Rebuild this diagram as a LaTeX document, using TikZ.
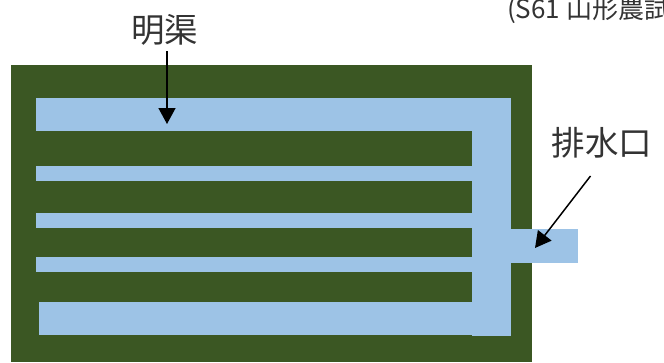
\documentclass[tikz,border=0pt]{standalone}
\usepackage{fontspec}
\setmainfont{Noto Sans CJK JP}
\usetikzlibrary{arrows.meta}
\definecolor{fieldgreen}{HTML}{3B5723}
\definecolor{waterblue}{HTML}{9DC3E6}
\definecolor{inkgrey}{HTML}{333333}
\tikzset{
  field/.style={fill=fieldgreen,draw=none},
  water/.style={fill=waterblue,draw=none},
  bigtext/.style={font=\fontsize{33.5}{36}\selectfont,text=inkgrey,inner sep=0pt},
  srctext/.style={font=\fontsize{26}{28}\selectfont,text=inkgrey,inner sep=0pt,anchor=base west},
  pointer/.style={draw=black,line width=1.5pt,-{Triangle[length=16pt,width=17pt]},shorten >=0pt}
}
\begin{document}
\begin{tikzpicture}[x=1pt,y=-1pt]
\useasboundingbox (0,0) rectangle (664,362);
\clip (0,0) rectangle (664,362);
\fill[field] (11,65) rectangle (532,362);
\fill[water] (36,98) rectangle (511,131);
\fill[water] (36,166) rectangle (472,181);
\fill[water] (36,213) rectangle (472,228);
\fill[water] (36,257) rectangle (472,272);
\fill[water] (39,302) rectangle (472,335);
\fill[water] (472,98) rectangle (511,336);
\fill[water] (511,229) rectangle (578,263);
\node[bigtext] (canal) at (164.5,29.5) {明渠};
\node[bigtext] (outlet) at (602,142.5) {排水口};
\node[srctext] (source) at (507,18) {(S61 山形農試};
\coordinate (canalstart) at (167,51);
\coordinate (canaltip) at (167,124);
\coordinate (outletstart) at (590.5,176);
\coordinate (outlettip) at (535,248);
\draw[pointer] (canalstart) -- (canaltip);
\draw[pointer] (outletstart) -- (outlettip);
\end{tikzpicture}
\end{document}
